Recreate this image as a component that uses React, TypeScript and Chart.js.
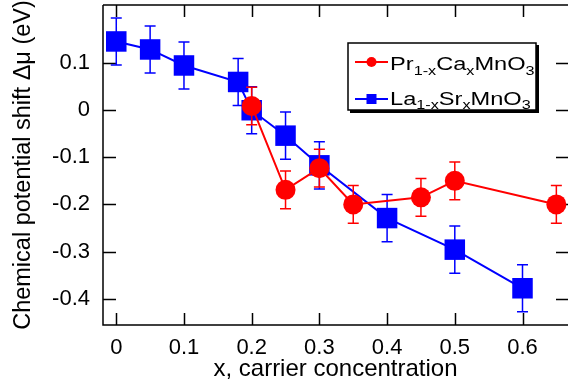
import React, { useEffect, useRef } from 'react';
import { Chart, registerables } from 'chart.js';

Chart.register(...registerables);

// Pr(1-x)Ca(x)MnO3
const xPCMO = [0.2, 0.25, 0.3, 0.35, 0.45, 0.5, 0.65];
const yPCMO = [0.009, -0.169, -0.123, -0.2, -0.185, -0.15, -0.2];
const errPCMO = [0.04, 0.04, 0.04, 0.04, 0.04, 0.04, 0.04];

// La(1-x)Sr(x)MnO3
const xLSMO = [0, 0.05, 0.1, 0.18, 0.2, 0.25, 0.3, 0.4, 0.5, 0.6];
const yLSMO = [0.146, 0.129, 0.095, 0.06, 0.0, -0.054, -0.117, -0.229, -0.296, -0.378];
const errLSMO = [0.05, 0.05, 0.05, 0.05, 0.05, 0.05, 0.05, 0.05, 0.05, 0.05];

// tick values shown on the axes
const xTickValues = [0, 0.1, 0.2, 0.3, 0.4, 0.5, 0.6];
const yTickValues = [-0.4, -0.3, -0.2, -0.1, 0, 0.1];

// legend labels: [text, isSubscript]
const legendPCMO: [string, boolean][] = [['Pr', false], ['1-x', true], ['Ca', false], ['x', true], ['MnO', false], ['3', true]];
const legendLSMO: [string, boolean][] = [['La', false], ['1-x', true], ['Sr', false], ['x', true], ['MnO', false], ['3', true]];

const xTitle = 'x, carrier concentration';
const yTitle = 'Chemical potential shift \u0394\u03bc (eV)';

const RED = '#ff0000';
const BLUE = '#0000ff';
const FONT = "'Liberation Sans', Arial, Helvetica, sans-serif";

const errorArrays = [errPCMO, errLSMO];

const fmt = (v: number) => (Math.abs(v) < 1e-9 ? '0' : v.toFixed(1));

const framePlugin = {
  id: 'frameTicks',
  beforeDatasetsDraw(chart: any) {
    const { ctx, chartArea: a, scales } = chart;
    const xs = scales.x;
    const ys = scales.y;
    const L = 12;
    ctx.save();
    ctx.strokeStyle = '#000';
    ctx.lineWidth = 1.5;
    ctx.beginPath();
    ctx.moveTo(a.left, a.top);
    ctx.lineTo(a.left, a.bottom);
    ctx.lineTo(a.right, a.bottom);
    ctx.moveTo(a.left, a.top);
    ctx.lineTo(a.right, a.top);
    for (const t of xs.ticks) {
      const px = Math.round(xs.getPixelForValue(t.value)) + 0.5;
      ctx.moveTo(px, a.bottom);
      ctx.lineTo(px, a.bottom - L);
      ctx.moveTo(px, a.top);
      ctx.lineTo(px, a.top + L);
    }
    for (const t of ys.ticks) {
      const py = Math.round(ys.getPixelForValue(t.value)) + 0.5;
      ctx.moveTo(a.left, py);
      ctx.lineTo(a.left + L + 1, py);
      ctx.moveTo(a.right, py);
      ctx.lineTo(a.right - L, py);
    }
    ctx.stroke();
    ctx.restore();
  },
};

const errorBarPlugin = {
  id: 'errorBars',
  beforeDatasetDraw(chart: any, args: any) {
    const i = args.index;
    const errs = errorArrays[i];
    if (!errs) return;
    const ds = chart.data.datasets[i];
    const { ctx, scales } = chart;
    const xs = scales.x;
    const ys = scales.y;
    ctx.save();
    ctx.strokeStyle = ds.borderColor;
    ctx.lineWidth = 1.5;
    ctx.beginPath();
    ds.data.forEach((p: any, k: number) => {
      const px = xs.getPixelForValue(p.x);
      const top = ys.getPixelForValue(p.y + errs[k]);
      const bot = ys.getPixelForValue(p.y - errs[k]);
      const w = 5.5;
      ctx.moveTo(px, top);
      ctx.lineTo(px, bot);
      ctx.moveTo(px - w, top);
      ctx.lineTo(px + w, top);
      ctx.moveTo(px - w, bot);
      ctx.lineTo(px + w, bot);
    });
    ctx.stroke();
    ctx.restore();
  },
};

function drawRich(ctx: CanvasRenderingContext2D, x: number, y: number, parts: [string, boolean][]) {
  const sx = 1.35;
  ctx.save();
  ctx.translate(x, y);
  ctx.scale(sx, 1);
  ctx.fillStyle = '#000';
  ctx.textBaseline = 'alphabetic';
  ctx.textAlign = 'left';
  let cx = 0;
  for (const [txt, sub] of parts) {
    ctx.font = sub ? `12px ${FONT}` : `17.5px ${FONT}`;
    ctx.fillText(txt, cx, sub ? 4.5 : 0);
    cx += ctx.measureText(txt).width;
  }
  ctx.restore();
}

const legendPlugin = {
  id: 'customLegend',
  afterDraw(chart: any) {
    const { ctx } = chart;
    const bx = 348;
    const by = 43;
    const bw = 188;
    const bh = 67;
    ctx.save();
    ctx.fillStyle = '#000';
    ctx.fillRect(bx + 2, by + 2, bw + 1, bh + 1);
    ctx.fillStyle = '#fff';
    ctx.fillRect(bx, by, bw, bh);
    ctx.strokeStyle = '#000';
    ctx.lineWidth = 1.5;
    ctx.strokeRect(bx, by, bw, bh);

    const rows = [
      { y: 62, base: 70, color: RED, style: 'circle', parts: legendPCMO },
      { y: 99, base: 104.5, color: BLUE, style: 'rect', parts: legendLSMO },
    ];
    for (const r of rows) {
      ctx.strokeStyle = r.color;
      ctx.fillStyle = r.color;
      ctx.lineWidth = 2;
      ctx.beginPath();
      ctx.moveTo(355, r.y);
      ctx.lineTo(388, r.y);
      ctx.stroke();
      if (r.style === 'circle') {
        ctx.beginPath();
        ctx.arc(371.5, r.y, 5, 0, Math.PI * 2);
        ctx.fill();
      } else {
        ctx.fillRect(366.5, r.y - 5, 10, 10);
      }
      drawRich(ctx, 390, r.base, r.parts);
    }
    ctx.restore();
  },
};

const noPad = (s: any) => {
  s.paddingTop = 0;
  s.paddingBottom = 0;
  s.paddingLeft = 0;
  s.paddingRight = 0;
};

export default function App() {
  const ref = useRef<HTMLCanvasElement | null>(null);
  useEffect(() => {
    if (!ref.current) return;
    const chart = new Chart(ref.current, {
      type: 'scatter',
      data: {
        datasets: [
          {
            label: 'Pr1-xCaxMnO3',
            data: xPCMO.map((x, i) => ({ x, y: yPCMO[i] })),
            showLine: true,
            borderColor: RED,
            backgroundColor: RED,
            borderWidth: 2,
            pointStyle: 'circle',
            pointRadius: 10,
            pointBorderWidth: 0,
            pointBackgroundColor: RED,
          },
          {
            label: 'La1-xSrxMnO3',
            data: xLSMO.map((x, i) => ({ x, y: yLSMO[i] })),
            showLine: true,
            borderColor: BLUE,
            backgroundColor: BLUE,
            borderWidth: 2,
            pointStyle: 'rect',
            pointRadius: 14.5,
            pointBorderWidth: 0,
            pointBackgroundColor: BLUE,
          },
        ],
      },
      options: {
        responsive: false,
        animation: false,
        devicePixelRatio: 1,
        layout: { padding: { left: 0, top: 5, right: 0, bottom: 0 }, autoPadding: false },
        plugins: {
          legend: { display: false },
          tooltip: { enabled: false },
        },
        scales: {
          x: {
            type: 'linear',
            position: 'bottom',
            min: -0.0196,
            max: 0.6672,
            grid: { display: false, drawTicks: false },
            border: { display: false },
            afterBuildTicks: (s: any) => {
              s.ticks = xTickValues.map((v) => ({ value: v }));
            },
            ticks: {
              color: '#000',
              padding: 10,
              maxRotation: 0,
              autoSkip: false,
              font: { family: FONT, size: 22 },
              callback: (v: any) => fmt(Number(v)),
            },
            title: {
              display: true,
              text: xTitle,
              color: '#000',
              font: { family: FONT, size: 24 },
              padding: { top: 0, bottom: 4 },
            },
            afterFit: (s: any) => {
              s.height = 63;
              noPad(s);
            },
          },
          y: {
            type: 'linear',
            position: 'left',
            min: -0.456,
            max: 0.2234,
            grid: { display: false, drawTicks: false },
            border: { display: false },
            afterBuildTicks: (s: any) => {
              s.ticks = yTickValues.map((v) => ({ value: v }));
            },
            ticks: {
              color: '#000',
              padding: 13,
              autoSkip: false,
              font: { family: FONT, size: 22 },
              callback: (v: any) => fmt(Number(v)),
            },
            title: {
              display: true,
              text: yTitle,
              color: '#000',
              font: { family: FONT, size: 23.5 },
              padding: { top: 9, bottom: 0 },
            },
            afterFit: (s: any) => {
              s.width = 103;
              noPad(s);
            },
          },
        },
      },
      plugins: [framePlugin, errorBarPlugin, legendPlugin],
    } as any);
    return () => chart.destroy();
  }, []);

  return (
    <div style={{ position: 'absolute', left: 0, top: 0, width: 568, height: 388, background: '#fff' }}>
      <canvas ref={ref} width={568} height={388} style={{ width: 568, height: 388, display: 'block' }} />
    </div>
  );
}
